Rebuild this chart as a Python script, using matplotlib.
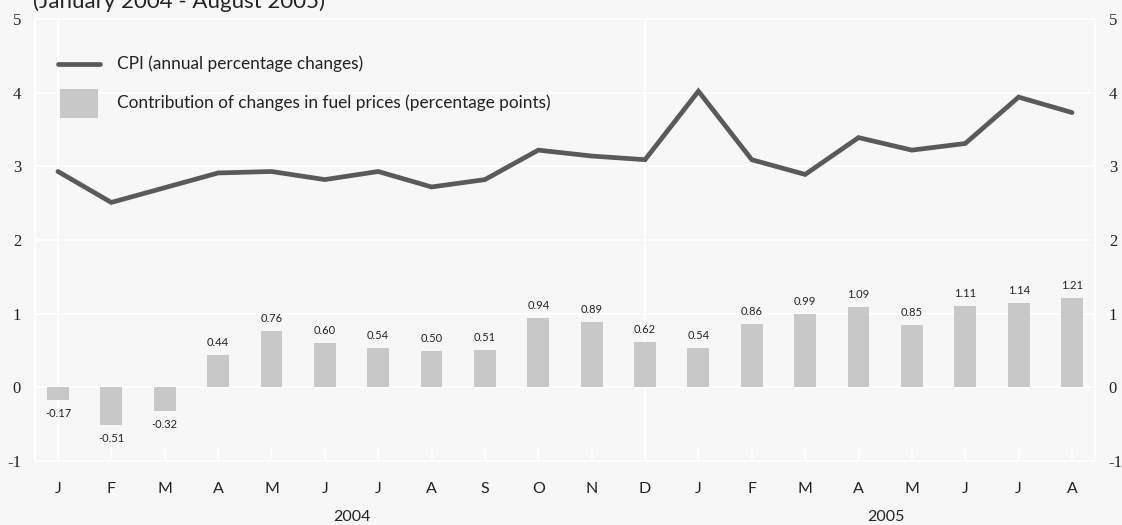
import matplotlib
matplotlib.use("Agg")
import matplotlib.pyplot as plt
import matplotlib.transforms as mtransforms
from matplotlib.patches import Rectangle

months = ["J", "F", "M", "A", "M", "J", "J", "A", "S", "O", "N", "D",
          "J", "F", "M", "A", "M", "J", "J", "A"]
cpi = [2.93, 2.51, 2.71, 2.91, 2.93, 2.82, 2.93, 2.72, 2.82, 3.22,
       3.14, 3.09, 4.02, 3.09, 2.89, 3.39, 3.22, 3.31, 3.94, 3.73]
fuel = [-0.17, -0.51, -0.32, 0.44, 0.76, 0.60, 0.54, 0.50, 0.51, 0.94,
        0.89, 0.62, 0.54, 0.86, 0.99, 1.09, 0.85, 1.11, 1.14, 1.21]
years = ["2004", "2005"]
year_pos = [5.5, 15.52]
yticks = [-1, 0, 1, 2, 3, 4, 5]

bg = "#f7f7f7"
bar_c = "#c8c8c8"
line_c = "#5a5a5a"
txt_c = "#222222"
sans = "Lato"
serif = "Liberation Serif"

fig = plt.figure(figsize=(11.22, 5.25), dpi=100, facecolor=bg)
ax = fig.add_axes([0.0312, 0.1219, 0.9447, 0.8419], facecolor=bg)

x = list(range(len(months)))
ax.set_xlim(-0.43, 19.43)
ax.set_ylim(-1, 5)

# white grid
for v in yticks:
    ax.axhline(v, color="white", lw=1.6, zorder=0)
for v in [0, 11]:
    ax.axvline(v, color="white", lw=1.6, zorder=0)
for s in ax.spines.values():
    s.set_color("white")
    s.set_linewidth(1.6)

ax.bar(x, fuel, width=0.41, color=bar_c, zorder=2)
ax.plot(x, cpi, color=line_c, lw=3.4, solid_capstyle="round",
        solid_joinstyle="miter", zorder=3)

for i, v in enumerate(fuel):
    if v >= 0:
        ax.annotate("%.2f" % v, (i, v), xytext=(0, 5), textcoords="offset points",
                    ha="center", va="bottom", fontsize=8, family=sans, color=txt_c)
    else:
        ax.annotate("%.2f" % v, (i, v), xytext=(0, -6), textcoords="offset points",
                    ha="center", va="top", fontsize=8, family=sans, color=txt_c)

ax.set_xticks(x)
ax.set_xticklabels(months, family=sans, fontsize=11.5, color=txt_c)
ax.tick_params(axis="x", direction="in", length=9, width=1.5, color="white", pad=15)

ax.set_yticks(yticks)
ax.set_yticklabels([str(v) for v in yticks], family=serif, fontsize=12, color=txt_c)
ax.tick_params(axis="y", length=0, pad=10, labelright=True)

trans = mtransforms.blended_transform_factory(ax.transData, fig.transFigure)
for p, y in zip(year_pos, years):
    fig.text(p, 0.0155, y, transform=trans, ha="center", va="center",
             family=sans, fontsize=11.5, color=txt_c)

fig.text(0.029, 0.9848, "(January 2004 - August 2005)", ha="left", va="baseline",
         family=sans, fontsize=16, color=txt_c)

# legend keys drawn in axes fractions
ax.plot([0.0217, 0.0613], [0.898, 0.898], transform=ax.transAxes, color=line_c,
        lw=3.4, solid_capstyle="round", zorder=4)
ax.add_patch(Rectangle((0.0236, 0.776), 0.0358, 0.066, transform=ax.transAxes,
                       facecolor=bar_c, edgecolor="none", zorder=4))
ax.text(0.0774, 0.898, "CPI (annual percentage changes)", transform=ax.transAxes,
        ha="left", va="center", family=sans, fontsize=12.4, color=txt_c)
ax.text(0.0774, 0.810, "Contribution of changes in fuel prices (percentage points)",
        transform=ax.transAxes, ha="left", va="center", family=sans,
        fontsize=12.4, color=txt_c)

fig.savefig("out.png", dpi=100, facecolor=bg)
